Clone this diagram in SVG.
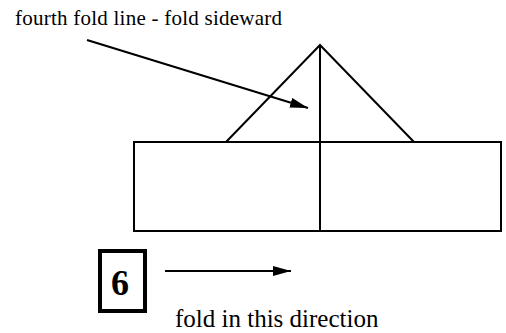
<svg xmlns="http://www.w3.org/2000/svg" width="506" height="333" viewBox="0 0 506 333">
<defs>
<style>
.ln{stroke:#000;stroke-width:2;fill:none}
.t{font-family:"Liberation Serif","Times New Roman",serif;fill:#000}
</style>
<marker id="ah2" viewBox="0 0 18 10" markerWidth="18" markerHeight="10" refX="18" refY="5" orient="auto" markerUnits="userSpaceOnUse">
<path d="M0,0 L18,5 L0,10 z" fill="#000"/>
</marker>
</defs>
<rect width="506" height="333" fill="#fff"/>
<g id="paper">
<rect class="ln" x="134" y="142" width="367" height="89"/>
<polyline class="ln" points="226,142 320,45 414,142"/>
<line class="ln" x1="320" y1="45" x2="320" y2="231"/>
</g>
<g id="label-top">
<text class="t" x="15" y="25" font-size="21" textLength="267" lengthAdjust="spacing">fourth fold line - fold sideward</text>
</g>
<g id="step">
<rect x="100" y="251" width="45" height="60" fill="none" stroke="#000" stroke-width="4"/>
<text class="t" x="120" y="295" font-size="36" font-weight="bold" text-anchor="middle">6</text>
</g>
<g id="label-bottom">
<text class="t" x="175" y="327" font-size="25">fold in this direction</text>
</g>
<g id="connectors">
<line class="ln" x1="87" y1="40" x2="308" y2="108" marker-end="url(#ah2)"/>
<line class="ln" x1="165" y1="271" x2="291" y2="271" marker-end="url(#ah2)"/>
</g>
</svg>
